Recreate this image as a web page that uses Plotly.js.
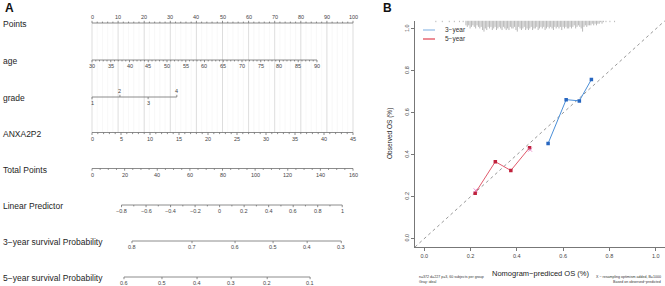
<!DOCTYPE html>
<html><head><meta charset="utf-8">
<script src="https://cdn.plot.ly/plotly-3.0.1.min.js"></script>
<style>html,body{margin:0;padding:0;background:#fff;}#chart{width:665px;height:286px;}</style>
</head><body><div id="chart"></div>
<script>
// ===== Panel A: nomogram data =====
const rowLabels = ["Points","age","grade","ANXA2P2","Total Points","Linear Predictor","3\u2212year survival Probability","5\u2212year survival Probability"];
const pointsTicks = [0,10,20,30,40,50,60,70,80,90,100];
const ageTicks = [30,35,40,45,50,55,60,65,70,75,80,85,90];
const ageRange = [30,90];
const agePointsRange = [0,86.2];
const gradeLevels = [1,2,3,4];
const gradePoints = [0,10.7,21.5,32.5];
const anxaTicks = [0,5,10,15,20,25,30,35,40,45];
const anxaRange = [0,45];
const anxaPointsRange = [0,100];
const totalTicks = [0,20,40,60,80,100,120,140,160];
const totalMax = 160;
const lpTicks = [-0.8,-0.6,-0.4,-0.2,0,0.2,0.4,0.6,0.8,1];
const lpRange = [-0.8,1];
const lpTotalRange = [18.1,153.4];
const surv3Ticks = [0.8,0.7,0.6,0.5,0.4,0.3];
const surv3Total = [24.5,61.3,87.7,111.0,131.9,152.8];
const surv5Ticks = [0.6,0.5,0.4,0.3,0.2,0.1];
const surv5Total = [19.6,42.9,64.4,85.3,107.4,133.7];

// ===== Panel B: calibration data =====
const cal3Pred = [0.535,0.613,0.670,0.722];
const cal3Obs  = [0.454,0.663,0.657,0.759];
const cal5Pred = [0.220,0.307,0.374,0.455];
const cal5Obs  = [0.217,0.367,0.325,0.434];
const cal5CorrPred = [0.222,0.457];
const cal5CorrObs  = [0.230,0.424];
const rugPred = [0.050,0.078,0.108,0.130,0.152,0.168,
 0.180,0.186,0.192,0.198,0.204,0.210,0.216,0.222,0.228,0.234,
 0.240,0.246,0.252,0.258,0.264,0.270,0.276,0.282,0.288,0.294,
 0.300,0.306,0.312,0.318,0.324,0.330,0.336,0.342,0.348,0.354,
 0.360,0.366,0.372,0.378,0.384,0.390,0.396,0.402,0.408,0.414,
 0.420,0.426,0.432,0.438,0.444,0.450,0.456,0.462,0.468,0.474,
 0.480,0.486,0.492,0.498,0.504,0.510,0.516,0.522,0.528,0.534,
 0.540,0.546,0.552,0.558,0.564,0.570,0.576,0.582,0.588,0.594,
 0.600,0.606,0.612,0.618,0.624,0.630,0.636,0.642,0.648,0.654,
 0.660,0.666,0.672,0.678,0.684,0.690,0.696,0.702,0.708,0.714,
 0.720,0.726,0.732,0.738,0.744,0.750,0.756,0.762,0.768,0.774,
 0.785,0.802,0.822];
const rugCount = [1,1,1,1,1,1,
 3,4,3,5,4,3,4,5,3,4,
 5,4,6,7,5,6,4,5,4,6,
 5,4,6,5,4,5,6,4,5,6,
 5,6,4,5,5,4,6,7,4,5,
 6,5,4,6,5,6,5,4,6,5,
 5,4,6,5,4,5,4,6,5,4,
 5,4,5,6,4,5,4,5,4,6,
 4,5,4,5,5,4,5,4,3,5,
 4,3,4,5,7,4,3,4,3,3,
 3,2,3,2,3,2,2,1,2,1,
 1,1,1];

// ===== layout constants (pixels) =====
const W = 665, H = 286;
const FONT = "Liberation Sans, Arial, Helvetica, sans-serif";
const PX0 = 92, PX100 = 353, AW = 372;      // panel A points-axis anchors
const rowY = [23,60,97,132.5,168.5,205,241,277];
const axColor = '#6e6e6e', tickLblColor = '#454545';

function lin(v, d, r){ return r[0] + (v - d[0]) / (d[1] - d[0]) * (r[1] - r[0]); }
const totalX = tp => tp * 100 / totalMax;
const fmt = v => String(v).replace('-', '\u2212');

const axisTr = {x:[], y:[], mode:'lines', type:'scatter', xaxis:'x', yaxis:'y', line:{color:axColor, width:0.8}, hoverinfo:'skip', showlegend:false};
const gridMaj = {x:[], y:[], mode:'lines', type:'scatter', xaxis:'x', yaxis:'y', line:{color:'#d4d4d4', width:0.8}, hoverinfo:'skip', showlegend:false};
const gridMin = {x:[], y:[], mode:'lines', type:'scatter', xaxis:'x', yaxis:'y', line:{color:'#f3f3f3', width:0.6}, hoverinfo:'skip', showlegend:false};
function seg(tr, x0, y0, x1, y1){ tr.x.push(x0, x1, null); tr.y.push(y0, y1, null); }
const ann = [];

function drawAxis(row, xs, labels, dirs, minorXs){
  const y = rowY[row];
  seg(axisTr, Math.min(...xs), y, Math.max(...xs), y);
  xs.forEach((x, i) => {
    const d = dirs[i];
    seg(axisTr, x, y, x, y + d * 2.2);
    ann.push({x:x, y:y + d * 6, xref:'x', yref:'y', text:labels[i], showarrow:false,
      xanchor:'center', yanchor:'middle', font:{size:5.5, color:tickLblColor, family:FONT}});
  });
  (minorXs || []).forEach(x => { seg(axisTr, x, y, x, y + dirs[0] * 1.4); });
}

// grid lines (Points axis down to ANXA2P2)
for (let p = 0; p <= 100; p += 2) {
  if (p % 10 === 0) seg(gridMaj, p, rowY[0], p, rowY[3]);
  else seg(gridMin, p, rowY[0], p, rowY[3]);
}
// Points
const ptsMinor = []; for (let p = 0; p <= 100; p += 2) if (p % 10) ptsMinor.push(p);
drawAxis(0, pointsTicks, pointsTicks.map(String), pointsTicks.map(() => -1), ptsMinor);
// age
const ageMinor = []; for (let a = ageRange[0]; a <= ageRange[1]; a += 1) if (a % 5) ageMinor.push(lin(a, ageRange, agePointsRange));
drawAxis(1, ageTicks.map(a => lin(a, ageRange, agePointsRange)), ageTicks.map(String), ageTicks.map(() => 1), ageMinor);
// grade
drawAxis(2, gradePoints, gradeLevels.map(String), gradeLevels.map((g, i) => i % 2 ? -1 : 1), []);
// ANXA2P2
const anxaMinor = []; for (let a = anxaRange[0]; a <= anxaRange[1]; a += 1) if (a % 5) anxaMinor.push(lin(a, anxaRange, anxaPointsRange));
drawAxis(3, anxaTicks.map(a => lin(a, anxaRange, anxaPointsRange)), anxaTicks.map(String), anxaTicks.map(() => 1.15), anxaMinor);
// Total points
const totMinor = []; for (let t = 0; t <= totalMax; t += 5) if (t % 20) totMinor.push(totalX(t));
drawAxis(4, totalTicks.map(totalX), totalTicks.map(String), totalTicks.map(() => 1), totMinor);
// Linear predictor
const lpX = v => totalX(lin(v, lpRange, lpTotalRange));
const lpMinor = []; for (let k = -7; k <= 9; k += 2) lpMinor.push(lpX(k / 10));
drawAxis(5, lpTicks.map(lpX), lpTicks.map(fmt), lpTicks.map(() => 1), lpMinor);
// survival
drawAxis(6, surv3Total.map(totalX), surv3Ticks.map(String), surv3Ticks.map(() => 1), []);
drawAxis(7, surv5Total.map(totalX), surv5Ticks.map(String), surv5Ticks.map(() => 1), []);

rowLabels.forEach((t, i) => ann.push({x:1/W, y:rowY[i] + 1, xref:'paper', yref:'y', text:t, showarrow:false,
  xanchor:'left', yanchor:'middle', font:{size:8.5, color:'#1e1e1e', family:FONT}}));

// ===== Panel B traces =====
const B_TOP = 1.04;
const rugUnit = 0.0075;
const rugTr = {x:[], y:[], mode:'lines', type:'scatter', xaxis:'x2', yaxis:'y2', line:{color:'#8a8a8a', width:0.6}, hoverinfo:'skip', showlegend:false};
rugPred.forEach((p, i) => seg(rugTr, p, B_TOP, p, B_TOP - rugCount[i] * rugUnit));

const ideal = {x:[-0.04, 1.04], y:[-0.04, 1.04], mode:'lines', type:'scatter', xaxis:'x2', yaxis:'y2',
  line:{color:'#8c8c8c', width:0.9, dash:'dot'}, hoverinfo:'skip', showlegend:false};
const c3 = {x:cal3Pred, y:cal3Obs, mode:'lines+markers', type:'scatter', xaxis:'x2', yaxis:'y2', name:'3\u2212year',
  line:{color:'#4b8fd8', width:1}, marker:{symbol:'square', size:3.5, color:'#2766c0'}, showlegend:false};
const c5 = {x:cal5Pred, y:cal5Obs, mode:'lines+markers', type:'scatter', xaxis:'x2', yaxis:'y2', name:'5\u2212year',
  line:{color:'#e05a6c', width:1}, marker:{symbol:'square', size:3.5, color:'#c0223c'}, showlegend:false};
const c5x = {x:cal5CorrPred, y:cal5CorrObs, mode:'markers', type:'scatter', xaxis:'x2', yaxis:'y2',
  marker:{symbol:'x-thin-open', size:4, line:{color:'#7a9fd8', width:0.8}}, showlegend:false, hoverinfo:'skip'};

// paper helpers
const px = v => v / W, py = v => 1 - v / H;
const txt = (x, y, t, size, anchor, extra) => Object.assign({x:px(x), y:py(y), xref:'paper', yref:'paper', text:t, showarrow:false,
  xanchor:anchor, yanchor:'middle', font:{size:size, color:'#222', family:FONT}}, extra || {});

ann.push(txt(3, 8, '<b>A</b>', 12, 'left', {font:{size:12, color:'#111', family:FONT}}));
ann.push(txt(381, 8, '<b>B</b>', 12, 'left', {font:{size:12, color:'#111', family:FONT}}));
ann.push(txt(540, 273, 'Nomogram\u2212prediced OS (%)', 7.5, 'center'));
ann.push(txt(390, 134, 'Observed OS (%)', 6.5, 'center', {textangle:-90}));
ann.push(txt(443, 30, '3\u2212year', 6.5, 'left', {font:{size:6.5, color:'#333', family:FONT}}));
ann.push(txt(443, 39, '5\u2212year', 6.5, 'left', {font:{size:6.5, color:'#333', family:FONT}}));
ann.push(txt(417, 276.5, 'n=372 d=227 p=3, 60 subjects per group', 3.6, 'left', {font:{size:3.6, color:'#333', family:FONT}}));
ann.push(txt(417, 281.5, 'Gray: ideal', 3.6, 'left', {font:{size:3.6, color:'#333', family:FONT}}));
ann.push(txt(663, 276.5, 'X \u2212 resampling optimism added, B=1000', 3.6, 'right', {font:{size:3.6, color:'#333', family:FONT}}));
ann.push(txt(663, 281.5, 'Based on observed\u2212predicted', 3.6, 'right', {font:{size:3.6, color:'#333', family:FONT}}));

const shapes = [
  {type:'line', xref:'paper', yref:'paper', x0:px(423), x1:px(435), y0:py(30), y1:py(30), line:{color:'#8fbbe6', width:1.2}},
  {type:'line', xref:'paper', yref:'paper', x0:px(423), x1:px(435), y0:py(39), y1:py(39), line:{color:'#e0404f', width:1.2}}
];

const bTicks = [0, 0.2, 0.4, 0.6, 0.8, 1.0];
const bTickText = ['0.0','0.2','0.4','0.6','0.8','1.0'];
const bAxis = {range:[-0.04, 1.04], showline:true, linecolor:'#555', linewidth:0.8, ticks:'outside', ticklen:3.5, tickwidth:0.8,
  tickcolor:'#555', tickvals:bTicks, ticktext:bTickText, tickfont:{size:5.5, color:tickLblColor, family:FONT},
  showgrid:false, zeroline:false, fixedrange:true};

const layout = {
  width:W, height:H, margin:{l:0, r:0, t:0, b:0}, paper_bgcolor:'#fff', plot_bgcolor:'rgba(0,0,0,0)',
  showlegend:false, hovermode:false, font:{family:FONT},
  xaxis:{domain:[0, AW / W], range:[(0 - PX0) / (PX100 - PX0) * 100, (AW - PX0) / (PX100 - PX0) * 100], visible:false, fixedrange:true, anchor:'y'},
  yaxis:{domain:[0, 1], range:[H, 0], visible:false, fixedrange:true, anchor:'x'},
  xaxis2:Object.assign({}, bAxis, {domain:[415 / W, 1], anchor:'y2'}),
  yaxis2:Object.assign({}, bAxis, {domain:[(H - 247) / H, (H - 20.6) / H], anchor:'x2', tickangle:-90}),
  annotations:ann, shapes:shapes
};

Plotly.newPlot('chart', [gridMin, gridMaj, axisTr, rugTr, ideal, c5, c5x, c3], layout, {displayModeBar:false, staticPlot:true});
</script></body></html>
